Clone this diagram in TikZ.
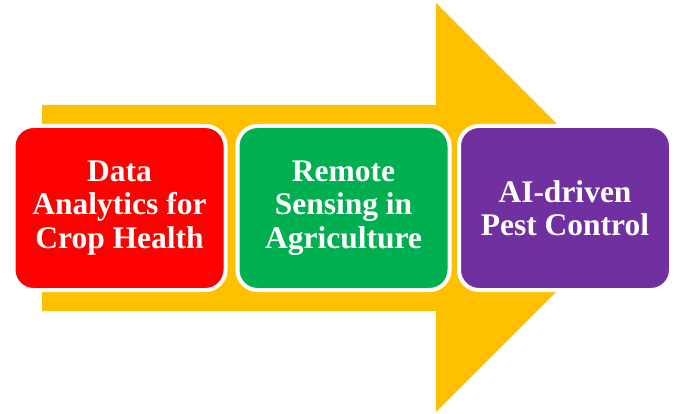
\documentclass[tikz,border=0pt]{standalone}
\usepackage{fontspec}
\setmainfont{Liberation Serif}
\usepackage{tikz}
\usetikzlibrary{shapes}

\definecolor{arrowyellow}{HTML}{FFC000}
\definecolor{stagered}{HTML}{FF0000}
\definecolor{stagegreen}{HTML}{00B050}
\definecolor{stagepurple}{HTML}{7030A0}

\begin{document}
\begin{tikzpicture}[x=1pt, y=1pt,
    stagebox/.style={draw=white, line width=4pt, rounded corners=20pt,
      minimum width=212pt, minimum height=164pt, inner sep=0pt,
      text=white, align=center,
      font=\bfseries\fontsize{31.5}{33.5}\selectfont}]
      \useasboundingbox (0, 0) rectangle (674, 413);
      \fill[arrowyellow] (42, 102) -- (436, 102) -- (436, 1) -- (640.5, 205.5)
        -- (436, 410) -- (436, 308) -- (42, 308) -- cycle;
      \node[stagebox, fill=stagered] (analytics) at (119.5, 205) {Data\\Analytics for\\Crop Health};
      \node[stagebox, fill=stagegreen] (sensing) at (343.5, 205) {Remote\\Sensing in\\Agriculture};
      \node[stagebox, fill=stagepurple] (pest) at (565, 205) {AI-driven\\Pest Control};
    \end{tikzpicture}
\end{document}
